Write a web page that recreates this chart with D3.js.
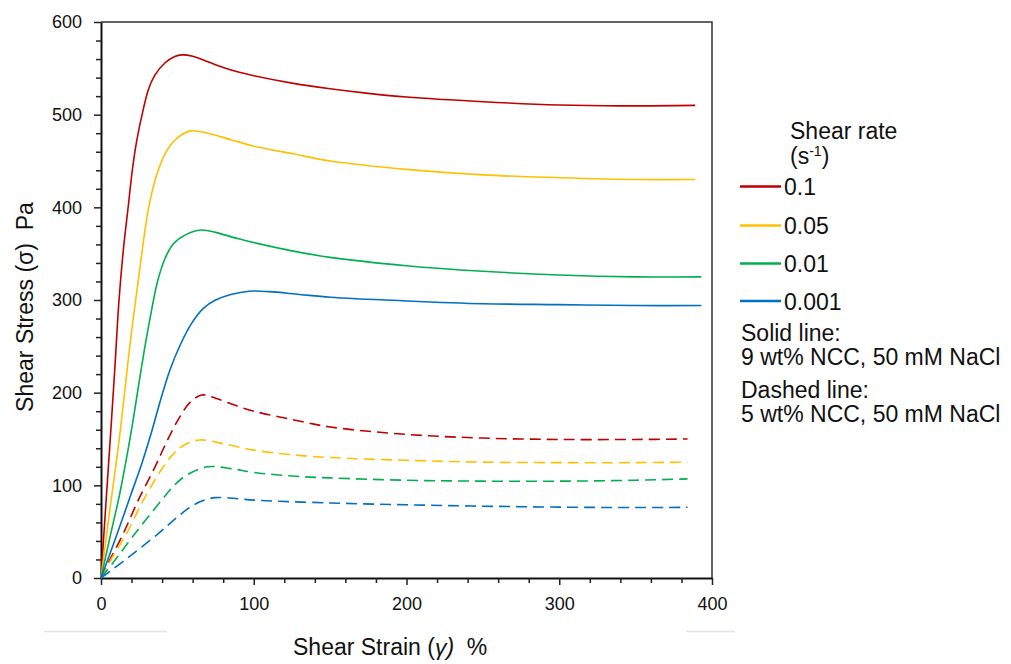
<!DOCTYPE html>
<html>
<head>
<meta charset="utf-8">
<script src="https://cdn.jsdelivr.net/npm/d3@7"></script>
<style>
  html, body { margin: 0; padding: 0; background: #fff; }
  svg { display: block; font-family: "Liberation Sans", Arial, Helvetica, sans-serif; }
</style>
</head>
<body>
<svg id="chart" width="1011" height="664"></svg>
<script>
// Axis ticks
const strainTicks = [0, 100, 200, 300, 400];
const stressTicks = [0, 100, 200, 300, 400, 500, 600];
const minorStep = 20;

// Shear rates (s^-1), legend order
const shearRates = ["0.1", "0.05", "0.01", "0.001"];

// Stress–strain curves [strain %, stress Pa], 9 wt% NCC (solid)
const nine_0_1 = [[0,0],[3,75],[6.3,156],[9,225],[11.8,300],[14.5,352],[17.9,402],[20.5,440],[23.4,472],[27.7,506],[31,527],[35.4,543],[42,556],[48,562.5],[53,564.5],[60,563],[70,557],[80,551],[90,546],[100,542],[125,534],[150,528],[175,523],[200,519],[250,514],[300,510.5],[340,509.5],[389,510]];
const nine_0_05 = [[0,0],[6,76],[12.4,156],[18,238],[20.7,275],[22.7,300],[27.7,362],[31,398],[36.4,435],[43,461],[50,475],[58.7,482.5],[70,480],[85,473],[100,466],[125,458],[150,450],[200,441],[250,435],[300,432],[350,430],[389,430]];
const nine_0_01 = [[0,0],[6,45],[12.4,92],[20,160],[25,212],[29,252],[33,288],[37,320],[42,345],[47,360],[55,370],[65.5,375.5],[75,373],[90,366],[100,362],[125,353],[150,346],[200,337],[250,331],[300,327],[350,325],[393,325]];
const nine_0_001 = [[0,0],[10,45],[20,92],[27,125],[33,157],[39,192],[45,224],[52,252],[59,274],[67,291],[75,300],[85,306],[97,309.5],[110,309],[130,306],[150,303],[200,299],[250,296],[300,295],[350,294],[393,294]];

// Stress–strain curves [strain %, stress Pa], 5 wt% NCC (dashed)
const five_0_1 = [[0,0],[5,17],[14.6,48],[24.4,84],[35.4,120],[41,140],[46.3,158],[52,175],[58,189],[65.9,197.5],[75,194],[90,185],[100,180],[125,171],[150,163],[200,155],[250,151],[300,149.5],[350,149.5],[384,150]];
const five_0_05 = [[0,0],[8,24],[16.8,48],[27.7,84],[40.8,120],[48,135],[55,144],[64.8,149],[80,145],[100,138],[125,133],[150,130],[200,127],[250,125],[300,124.5],[350,124.5],[384,125]];
const five_0_01 = [[0,0],[9,19],[22.3,48],[39.7,84],[48,100],[56,111],[70,120],[85,118],[100,114],[125,110],[150,108],[200,105.5],[250,104.5],[300,104.5],[350,105.5],[384,107]];
const five_0_001 = [[0,0],[15.7,19.4],[37.5,48],[48,63],[58,76],[66,83],[74.6,86.7],[90,85.5],[100,84],[150,81],[200,79],[250,77.5],[300,76.5],[350,76],[384,76.3]];

const solidSeries = [nine_0_1, nine_0_05, nine_0_01, nine_0_001];
const dashedSeries = [five_0_1, five_0_05, five_0_01, five_0_001];

// ---- drawing ----
const palette = ["#C00000", "#FFC000", "#00B050", "#0070C0"];
const svg = d3.select("#chart");

const x = d3.scaleLinear().domain([0, 400]).range([101, 712]);
const y = d3.scaleLinear().domain([0, 600]).range([578, 22]);

const minorX = d3.range(0, 400 + 1e-9, minorStep).filter(v => !strainTicks.includes(v));
const minorY = d3.range(0, 600 + 1e-9, minorStep).filter(v => !stressTicks.includes(v));

// plot frame (top and right)
svg.append("path")
  .attr("d", `M${x(0)},${y(600)}H${x(400)}V${y(0)}`)
  .attr("fill", "none").attr("stroke", "#333").attr("stroke-width", 1.5);

// x axis
const gx = svg.append("g").attr("transform", `translate(0,${y(0)})`);
gx.call(d3.axisBottom(x).tickValues(strainTicks).tickSize(7).tickSizeOuter(0).tickPadding(12).tickFormat(d3.format("d")));
gx.append("g").call(d3.axisBottom(x).tickValues(minorX).tickSize(5).tickFormat(""))
  .select(".domain").remove();

// y axis
const gy = svg.append("g").attr("transform", `translate(${x(0)},0)`);
gy.call(d3.axisLeft(y).tickValues(stressTicks).tickSize(7).tickSizeOuter(0).tickPadding(12).tickFormat(d3.format("d")));
gy.append("g").call(d3.axisLeft(y).tickValues(minorY).tickSize(5).tickFormat(""))
  .select(".domain").remove();

svg.selectAll(".domain").attr("stroke", "#111").attr("stroke-width", 2);
svg.selectAll(".tick line").attr("stroke", "#222").attr("stroke-width", 1.5);
svg.selectAll(".tick text").attr("font-size", 18).attr("fill", "#111")
  .attr("font-family", "'Liberation Sans', Arial, Helvetica, sans-serif");

// curves
const line = d3.line().x(d => x(d[0])).y(d => y(d[1])).curve(d3.curveCatmullRom.alpha(0.5));
const curves = svg.append("g").attr("fill", "none").attr("stroke-width", 1.6);
dashedSeries.forEach((s, i) => {
  curves.append("path").attr("d", line(s)).attr("stroke", palette[i])
    .attr("stroke-dasharray", "11,6");
});
solidSeries.forEach((s, i) => {
  curves.append("path").attr("d", line(s)).attr("stroke", palette[i]);
});

// axis titles
svg.append("text")
  .attr("transform", `translate(33,307) rotate(-90)`)
  .attr("text-anchor", "middle").attr("font-size", 23).attr("fill", "#111")
  .text("Shear Stress (σ)\u00a0\u00a0Pa");

const xt = svg.append("text")
  .attr("x", 293).attr("y", 655)
  .attr("font-size", 23).attr("fill", "#111");
xt.append("tspan").text("Shear Strain (");
xt.append("tspan").attr("font-style", "italic").text("γ)");
xt.append("tspan").text("\u00a0\u00a0%");

// faint rules beneath the axis
svg.append("line").attr("x1", 44).attr("x2", 167).attr("y1", 631.5).attr("y2", 631.5)
  .attr("stroke", "#e2e2e2").attr("stroke-width", 1.5);
svg.append("line").attr("x1", 686).attr("x2", 735).attr("y1", 631.5).attr("y2", 631.5)
  .attr("stroke", "#e2e2e2").attr("stroke-width", 1.5);

// legend
const lg = svg.append("g").attr("font-size", 23).attr("fill", "#111");
lg.append("text").attr("x", 790).attr("y", 139).text("Shear rate");
const unit = lg.append("text").attr("x", 790).attr("y", 164);
unit.append("tspan").text("(s");
unit.append("tspan").attr("font-size", 14).attr("dy", -8).text("-1");
unit.append("tspan").attr("dy", 8).text(")");

const legendY = [186.5, 225.5, 263.5, 301];
shearRates.forEach((r, i) => {
  lg.append("line").attr("x1", 740).attr("x2", 781)
    .attr("y1", legendY[i]).attr("y2", legendY[i])
    .attr("stroke", palette[i]).attr("stroke-width", 2.5);
  lg.append("text").attr("x", 784).attr("y", legendY[i] + 8.5).text(r);
});

lg.append("text").attr("x", 741).attr("y", 341).text("Solid line:");
lg.append("text").attr("x", 741).attr("y", 365).text("9 wt% NCC, 50 mM NaCl");
lg.append("text").attr("x", 741).attr("y", 398).text("Dashed line:");
lg.append("text").attr("x", 741).attr("y", 422).text("5 wt% NCC, 50 mM NaCl");
</script>
</body>
</html>
